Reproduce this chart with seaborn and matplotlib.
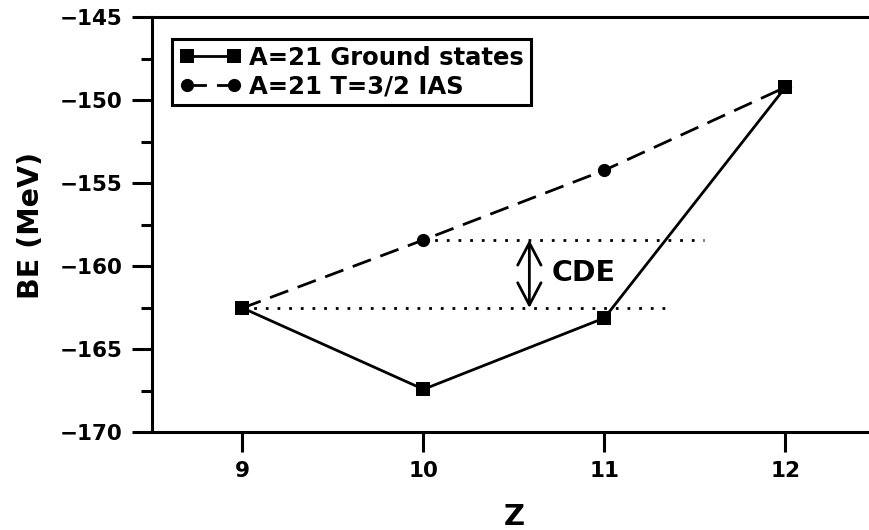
import matplotlib
matplotlib.use("Agg")
import matplotlib.pyplot as plt
import seaborn as sns
import pandas as pd
from matplotlib.ticker import MultipleLocator

# Binding energies of the A=21 isobars
z_values = [9, 10, 11, 12]
ground_be = [-162.5, -167.4, -163.1, -149.2]
ias_be = [-162.5, -158.4, -154.2, -149.2]
ground_label = "A=21 Ground states"
ias_label = "A=21 T=3/2 IAS"
cde_label = "CDE"
x_ticks = [9, 10, 11, 12]
y_ticks = [-170, -165, -160, -155, -150, -145]

sns.set_theme(style="ticks", rc={"text.color": "black",
                                 "axes.labelcolor": "black",
                                 "xtick.color": "black",
                                 "ytick.color": "black"})
plt.rcParams["font.family"] = ["DejaVu Sans"]
plt.rcParams["font.weight"] = "bold"
plt.rcParams["axes.labelweight"] = "bold"

fig = plt.figure(figsize=(8.69, 5.30), dpi=100)
ax = fig.add_axes([0.1749, 0.1840, 0.8331, 0.7830])

df_ias = pd.DataFrame({"Z": z_values, "BE": ias_be})
df_gs = pd.DataFrame({"Z": z_values, "BE": ground_be})

sns.lineplot(data=df_ias, x="Z", y="BE", ax=ax, color="black", marker="o",
             markersize=9.5, markeredgewidth=0, linewidth=2.0,
             label=ias_label)
sns.lineplot(data=df_gs, x="Z", y="BE", ax=ax, color="black", marker="s",
             markersize=9.5, markeredgewidth=0, linewidth=2.0,
             label=ground_label)
ias_line, gs_line = ax.lines[0], ax.lines[1]
ias_line.set_dashes((7, 3.6))
gs_line.set_zorder(4)

# dotted reference levels for the Coulomb displacement energy
ax.plot([z_values[1], 11.55], [ias_be[1], ias_be[1]], color="black",
        linestyle=(0, (1, 3.2)), linewidth=2, zorder=1)
ax.plot([z_values[0], 11.36], [ground_be[0], ground_be[0]], color="black",
        linestyle=(0, (1, 3.2)), linewidth=2, zorder=1)

ax.annotate("", xy=(10.585, ias_be[1]), xytext=(10.585, ground_be[0]),
            arrowprops=dict(arrowstyle="<->,head_length=0.8,head_width=0.42",
                            color="black", lw=2.0, shrinkA=0, shrinkB=0,
                            mutation_scale=20))
ax.text(10.71, (ias_be[1] + ground_be[0]) / 2 + 0.05, cde_label,
        ha="left", va="center", fontsize=20.5, fontweight="bold",
        color="black")

ax.set_xlim(8.5, 12.5)
ax.set_ylim(-170, -145)
ax.set_xticks(x_ticks)
ax.set_yticks(y_ticks)
ax.yaxis.set_minor_locator(MultipleLocator(2.5))

for side in ["left", "bottom", "top", "right"]:
    ax.spines[side].set_linewidth(2.2)
    ax.spines[side].set_color("black")

ax.tick_params(axis="both", which="major", direction="out", length=14.5,
               width=2.2, color="black", labelsize=15.5, labelcolor="black")
ax.tick_params(axis="y", which="major", pad=6.5)
ax.tick_params(axis="x", which="major", pad=6)
ax.tick_params(axis="y", which="minor", direction="out", length=8,
               width=2.2, color="black")
for lab in ax.get_xticklabels() + ax.get_yticklabels():
    lab.set_fontweight("bold")

ax.set_xlabel("Z", fontsize=21, fontweight="bold", labelpad=16)
ax.set_ylabel("BE (MeV)", fontsize=20.5, fontweight="bold", labelpad=11)

handles, labels = ax.get_legend_handles_labels()
order = [labels.index(ground_label), labels.index(ias_label)]
leg = ax.legend([handles[i] for i in order], [labels[i] for i in order],
                loc="upper left", bbox_to_anchor=(0.0276, 0.949),
                borderaxespad=0, numpoints=2, handlelength=2.55,
                handletextpad=0.3, labelspacing=0.17, borderpad=0.3,
                fancybox=False, framealpha=1, edgecolor="black",
                prop={"size": 17.5, "weight": "bold"})
leg.get_frame().set_linewidth(2.2)

fig.savefig("out.png", dpi=100)
